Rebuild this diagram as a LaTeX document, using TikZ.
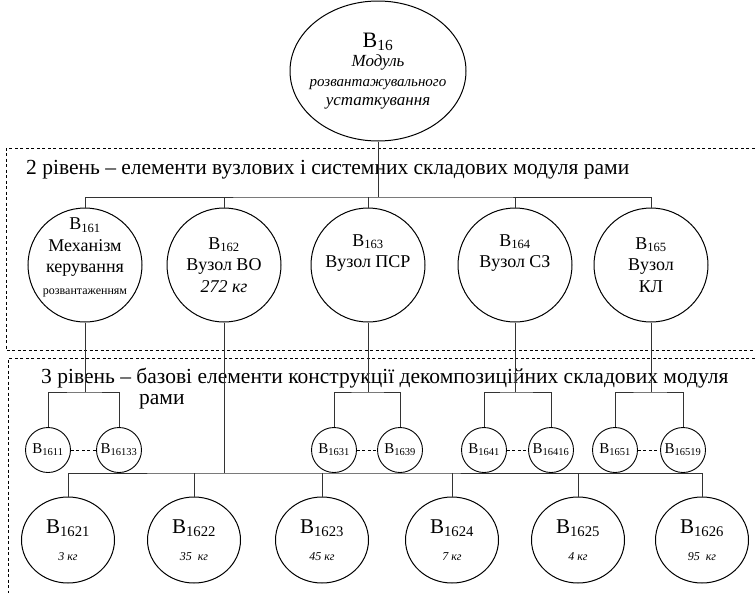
\documentclass[tikz,border=0pt]{standalone}
\usepackage{fontspec}
\setmainfont{Liberation Serif}
\usetikzlibrary{positioning, calc, shapes.geometric}
\tikzstyle{Top} = [draw, ellipse, line width=1pt, minimum width=176pt,
minimum height=140pt, inner sep=-15pt, align=center,
font=\fontsize{17}{19.5}\selectfont]
\tikzstyle{Unit} = [draw, circle, line width=1pt, minimum size=114pt,
inner sep=-10pt, align=center, font=\fontsize{18}{21.5}\selectfont]
\tikzstyle{Part} = [draw, circle, line width=0.9pt, minimum size=45pt,
inner sep=-6pt, font=\fontsize{15}{18}\selectfont]
\tikzstyle{Leaf} = [draw, ellipse, line width=1pt, minimum width=93pt,
minimum height=86pt, inner sep=-6pt, align=center,
font=\fontsize{21}{27}\selectfont]
\tikzstyle{Link} = [line width=0.8pt, black!80]
\tikzstyle{Frame} = [line width=0.6pt, dash pattern=on 3pt off 2.5pt]
\tikzstyle{Level} = [anchor=west, inner sep=0pt, font=\fontsize{21.5}{24}\selectfont]
\newcommand{\Bn}[1]{В\textsubscript{#1}}
\newcommand{\Wt}[1]{{\fontsize{12}{14}\selectfont\textit{#1}}}

\begin{document}
\begin{tikzpicture}[x=1pt, y=-1pt]
    \useasboundingbox (0,0) rectangle (755,592);
    % frames of the levels
    \draw[Frame] (760,148) -| (6,350) -- (760,350);
    \draw[Frame] (760,358) -| (8,600);
    \node[Level] (lv2) at (26,170) {2 рівень – елементи вузлових і системних складових модуля рами};
    \node[Level] (lv3) at (41,378) {3 рівень – базові елементи конструкції декомпозиційних складових модуля};
    \node[Level] (lv3b) at (139,402) {рами};
    % level 1
    \node[Top] (16) at (378,71) {{\fontsize{22}{22}\selectfont\Bn{16}}\\\textit{Модуль}\\{\fontsize{15}{18}\selectfont\textit{розвантажувального}}\\\textit{устаткування}};
    % level 2
    \node[Unit] (161) at (85,265) {\Bn{161}\\Механізм\\керування\\{\fontsize{12}{14}\selectfont розвантаженням}\rule[-18pt]{0pt}{0pt}};
    \node[Unit] (162) at (224,265) {\Bn{162}\\Вузол ВО\\\textit{272 кг}};
    \node[Unit] (163) at (368,265) {\Bn{163}\\Вузол ПСР\\\strut};
    \node[Unit] (164) at (515,265) {\Bn{164}\\Вузол СЗ\\\strut};
    \node[Unit] (165) at (651,265) {\Bn{165}\\Вузол\\КЛ};
    \coordinate (bar2) at (378,197);
    \draw[Link] (16) -- (bar2);
    \draw[Link] (161) |- (bar2) -| (165);
    \draw[Link] (162) -- (162 |- bar2);
    \draw[Link] (163) -- (163 |- bar2);
    \draw[Link] (164) -- (164 |- bar2);
    % level 3
    \node[Part] (1611) at (48,450) {\Bn{1611}};
    \node[Part] (16133) at (119,450) {\Bn{16133}};
    \node[Part] (1631) at (334,450) {\Bn{1631}};
    \node[Part] (1639) at (400,450) {\Bn{1639}};
    \node[Part] (1641) at (484,450) {\Bn{1641}};
    \node[Part] (16416) at (551,450) {\Bn{16416}};
    \node[Part] (1651) at (615,450) {\Bn{1651}};
    \node[Part] (16519) at (683,450) {\Bn{16519}};
    \coordinate (br1) at (85,392);
    \coordinate (br3) at (368,392);
    \coordinate (br4) at (515,392);
    \coordinate (br5) at (651,392);
    \draw[Link] (161) -- (br1);
    \draw[Link] (163) -- (br3);
    \draw[Link] (164) -- (br4);
    \draw[Link] (165) -- (br5);
    \draw[Link] (1611) |- (br1) -| (16133);
    \draw[Link] (1631) |- (br3) -| (1639);
    \draw[Link] (1641) |- (br4) -| (16416);
    \draw[Link] (1651) |- (br5) -| (16519);
    \draw[Frame] (1611) -- (16133);
    \draw[Frame] (1631) -- (1639);
    \draw[Frame] (1641) -- (16416);
    \draw[Frame] (1651) -- (16519);
    % parts of unit 162
    \node[Leaf] (1621) at (68,540) {\Bn{1621}\\\Wt{3 кг}};
    \node[Leaf] (1622) at (194,540) {\Bn{1622}\\\Wt{35~ кг}};
    \node[Leaf] (1623) at (322,540) {\Bn{1623}\\\Wt{45 кг}};
    \node[Leaf] (1624) at (452,540) {\Bn{1624}\\\Wt{7 кг}};
    \node[Leaf] (1625) at (578,540) {\Bn{1625}\\\Wt{4 кг}};
    \node[Leaf] (1626) at (702,540) {\Bn{1626}\\\Wt{95~ кг}};
    \coordinate (bar3) at (224,473);
    \draw[Link] (162) -- (bar3);
    \draw[Link] (1621) |- (bar3) -| (1626);
    \draw[Link] (1622) -- (1622 |- bar3);
    \draw[Link] (1623) -- (1623 |- bar3);
    \draw[Link] (1624) -- (1624 |- bar3);
    \draw[Link] (1625) -- (1625 |- bar3);
\end{tikzpicture}
\end{document}
